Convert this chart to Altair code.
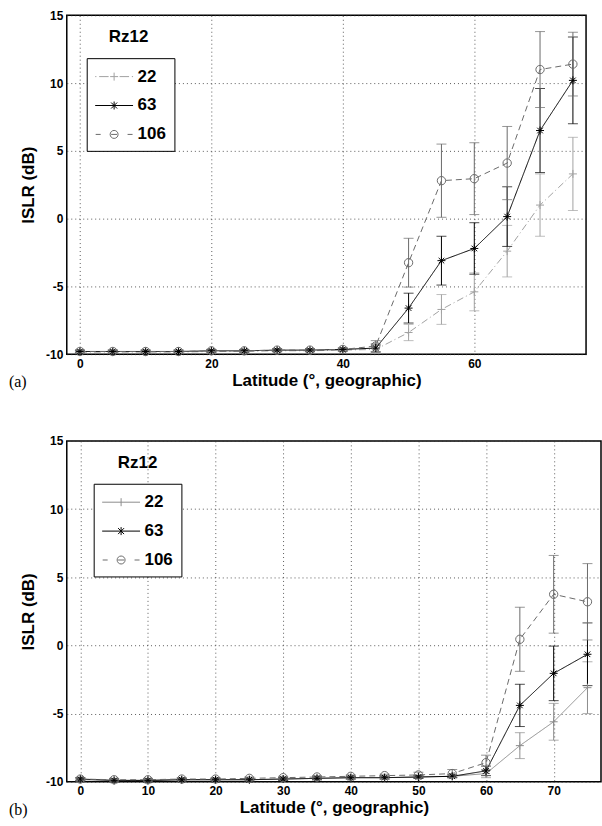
import altair as alt
import pandas as pd

lat = [0, 5, 10, 15, 20, 25, 30, 35, 40, 45, 50, 55, 60, 65, 70, 75]
series = ["22", "63", "106"]

# panel (a)
a22 = [-9.85, -9.85, -9.85, -9.85, -9.8, -9.8, -9.75, -9.75, -9.7, -9.65, -8.4, -6.7, -5.4, -2.4, 1.0, 3.3]
a22_err = [0.1, 0.1, 0.1, 0.1, 0.1, 0.1, 0.1, 0.1, 0.1, 0.3, 0.6, 1.1, 1.4, 1.9, 2.3, 2.7]
a63 = [-9.8, -9.8, -9.8, -9.8, -9.75, -9.75, -9.7, -9.7, -9.65, -9.55, -6.6, -3.1, -2.2, 0.15, 6.5, 10.2]
a63_err = [0.1, 0.1, 0.1, 0.1, 0.1, 0.1, 0.1, 0.1, 0.1, 0.3, 1.1, 1.8, 1.9, 2.2, 3.1, 3.2]
a106 = [-9.8, -9.8, -9.8, -9.8, -9.75, -9.75, -9.7, -9.7, -9.65, -9.4, -3.25, 2.8, 2.95, 4.1, 11.0, 11.4]
a106_err = [0.1, 0.1, 0.1, 0.1, 0.1, 0.1, 0.1, 0.1, 0.1, 0.4, 1.8, 2.7, 2.65, 2.7, 2.8, 2.35]

# panel (b)
b22 = [-9.85, -9.9, -9.9, -9.85, -9.85, -9.85, -9.8, -9.75, -9.7, -9.7, -9.65, -9.6, -9.4, -7.35, -5.6, -3.1]
b22_err = [0.1, 0.1, 0.1, 0.1, 0.1, 0.1, 0.1, 0.1, 0.1, 0.1, 0.1, 0.1, 0.3, 0.95, 1.35, 1.9]
b63 = [-9.8, -9.9, -9.9, -9.85, -9.85, -9.85, -9.8, -9.75, -9.7, -9.7, -9.65, -9.6, -9.2, -4.4, -2.05, -0.65]
b63_err = [0.1, 0.1, 0.1, 0.1, 0.1, 0.1, 0.1, 0.1, 0.1, 0.1, 0.1, 0.1, 0.35, 1.55, 2.0, 2.3]
b106 = [-9.8, -9.85, -9.85, -9.8, -9.8, -9.75, -9.7, -9.65, -9.6, -9.55, -9.5, -9.4, -8.6, 0.45, 3.75, 3.2]
b106_err = [0.1, 0.1, 0.1, 0.1, 0.1, 0.1, 0.1, 0.1, 0.1, 0.1, 0.2, 0.3, 0.55, 2.35, 2.85, 2.8]

y_ticks = [-10, -5, 0, 5, 10, 15]
xticks_a = [0, 20, 40, 60]
xticks_b = [0, 10, 20, 30, 40, 50, 60, 70]

FONT = "Liberation Sans"

PLUS = "M-1,0L1,0M0,-1L0,1"
STAR = "M-1,0L1,0M0,-1L0,1M-0.7,-0.7L0.7,0.7M-0.7,0.7L0.7,-0.7"

LEG_22_DASHDOT = "M-1.9,0L-1.78,0M-1.5,0L-0.55,0M-0.4,0L0.4,0M0,-0.4L0,0.4M0.55,0L1.5,0M1.78,0L1.9,0"
LEG_22_SOLID = "M-1.9,0L1.9,0M0,-0.4L0,0.4"
LEG_63 = "M-1.9,0L1.9,0M0,-0.4L0,0.4M-0.3,-0.3L0.3,0.3M-0.3,0.3L0.3,-0.3"
LEG_106 = ("M-1.85,0L-1.35,0M-0.3,0L0.3,0M1.35,0L1.85,0"
           "M0.4,0A0.4,0.4,0,1,1,-0.4,0A0.4,0.4,0,1,1,0.4,0")


def long_df(vals, errs):
    rows = []
    for s in series:
        for x, v, e in zip(lat, vals[s], errs[s]):
            rows.append({"lat": x, "series": s, "islr": v, "lo": v - e, "hi": v + e})
    return pd.DataFrame(rows)


def panel(df, colors, dashes, leg_paths, xticks, tag, tag_dx, rz_x, leg_x, width, height):
    xscale = alt.Scale(domain=[-2, 77], nice=False, zero=False)
    yscale = alt.Scale(domain=[-10, 15], nice=False, zero=False)
    xaxis = alt.Axis(values=xticks, title="Latitude (°, geographic)", format="d")
    yaxis = alt.Axis(values=y_ticks, title="ISLR (dB)", labelExpr="'' + datum.value")
    base = alt.Chart(df)
    X = alt.X("lat:Q", scale=xscale, axis=xaxis)

    def Y(f):
        return alt.Y(f, type="quantitative", scale=yscale, axis=yaxis)

    layers = []
    shapes = [PLUS, STAR, "circle"]
    for s, c, d, shp in zip(series, colors, dashes, shapes):
        sb = base.transform_filter(alt.datum.series == s)
        layers.append(sb.mark_rule(strokeWidth=1, color=c).encode(x=X, y=Y("lo"), y2="hi:Q"))
        layers.append(sb.mark_tick(orient="horizontal", size=10, thickness=1, color=c).encode(x=X, y=Y("lo")))
        layers.append(sb.mark_tick(orient="horizontal", size=10, thickness=1, color=c).encode(x=X, y=Y("hi")))
    for s, c, d, shp in zip(series, colors, dashes, shapes):
        sb = base.transform_filter(alt.datum.series == s)
        layers.append(sb.mark_line(strokeWidth=1, color=c, strokeDash=d).encode(x=X, y=Y("islr")))
    for s, c, d, shp in zip(series, colors, dashes, shapes):
        sb = base.transform_filter(alt.datum.series == s)
        layers.append(sb.mark_point(shape=shp, filled=False, size=64 if shp != "circle" else 70,
                                    strokeWidth=1, opacity=1, color=c).encode(x=X, y=Y("islr")))

    leg = alt.Legend(title=None, orient="none", legendX=leg_x, legendY=43,
                     strokeColor="black", fillColor="white", padding=8, cornerRadius=0,
                     labelFont=FONT, labelFontSize=17, labelFontWeight="bold", labelColor="black",
                     symbolSize=400, symbolStrokeWidth=1, symbolOffset=9, labelOffset=13,
                     rowPadding=10, symbolOpacity=1)
    layers.append(base.transform_filter("false").mark_point(filled=False, strokeWidth=1).encode(
        x=X, y=Y("islr"),
        color=alt.Color("series:N", scale=alt.Scale(domain=series, range=colors), legend=leg),
        shape=alt.Shape("series:N", scale=alt.Scale(domain=series, range=leg_paths), legend=leg)))

    layers.append(alt.Chart(pd.DataFrame({"t": ["Rz12"]})).mark_text(
        font=FONT, fontSize=17, fontWeight="bold", color="black").encode(
        text="t:N", x=alt.value(rz_x), y=alt.value(22)))
    layers.append(alt.Chart(pd.DataFrame({"t": [tag]})).mark_text(
        font="Liberation Serif", fontSize=16, color="black", align="left", baseline="middle").encode(
        text="t:N", x=alt.value(tag_dx), y=alt.value(height + 28)))

    return alt.layer(*layers).properties(width=width, height=height)


dfa = long_df({"22": a22, "63": a63, "106": a106}, {"22": a22_err, "63": a63_err, "106": a106_err})
dfb = long_df({"22": b22, "63": b63, "106": b106}, {"22": b22_err, "63": b63_err, "106": b106_err})

pa = panel(dfa, ["#a2a2a2", "#000000", "#6a6a6a"], [[7, 3, 1, 3], [1, 0], [6, 4]],
           [LEG_22_DASHDOT, LEG_63, LEG_106], xticks_a, "(a)", -58, 62, 20, 521, 340)
pb = panel(dfb, ["#8c8c8c", "#000000", "#6a6a6a"], [[1, 0], [1, 0], [6, 4]],
           [LEG_22_SOLID, LEG_63, LEG_106], xticks_b, "(b)", -58, 71, 27, 536, 342)

chart = alt.vconcat(pa, pb, spacing=43).resolve_scale(
    color="independent", shape="independent"
).properties(
    padding={"left": 8, "top": 7, "right": 0, "bottom": 0}
).configure_view(
    stroke="black", strokeWidth=1.5
).configure_axis(
    labelFont=FONT, labelFontSize=12, labelFontWeight="bold", labelColor="black",
    titleFont=FONT, titleFontSize=17, titleFontWeight="bold", titleColor="black",
    ticks=False, domain=False, labelPadding=4, titlePadding=3,
    grid=True, gridColor="#333333", gridDash=[1, 3], gridWidth=0.8, gridOpacity=1
).configure_axisY(titlePadding=8).configure_text(font=FONT)

chart.save("out.html", embed_options={"renderer": "svg", "actions": False})
